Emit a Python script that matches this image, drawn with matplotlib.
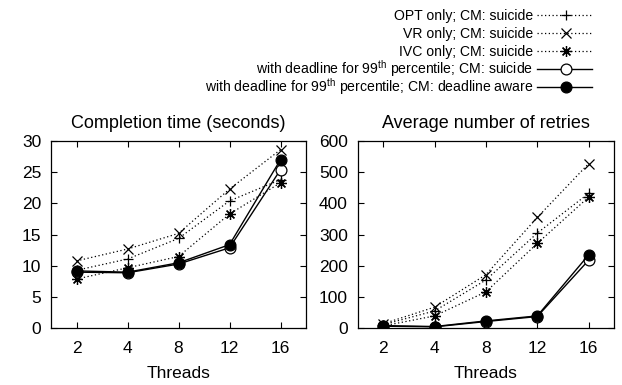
import matplotlib
matplotlib.use("Agg")
import matplotlib.pyplot as plt
from matplotlib.lines import Line2D

plt.rcParams['font.family'] = ['Liberation Sans', 'DejaVu Sans']
plt.rcParams['mathtext.fontset'] = 'custom'
plt.rcParams['mathtext.rm'] = 'Liberation Sans'

# Dati
threads = ['2', '4', '8', '12', '16']

opt_time = [9.3, 11.1, 14.4, 20.4, 23.8]
vr_time = [10.8, 12.7, 15.2, 22.3, 28.6]
ivc_time = [7.9, 9.7, 11.5, 18.3, 23.3]
dl_suicide_time = [9.0, 8.9, 10.3, 12.9, 25.4]
dl_aware_time = [9.2, 9.0, 10.5, 13.4, 27.0]

opt_retries = [12, 56, 155, 305, 432]
vr_retries = [15, 68, 172, 355, 527]
ivc_retries = [8, 40, 117, 272, 420]
dl_suicide_retries = [7, 5, 22, 38, 218]
dl_aware_retries = [9, 6, 24, 40, 235]

labels = [
    "OPT only; CM: suicide",
    "VR only; CM: suicide",
    "IVC only; CM: suicide",
    r"with deadline for 99$^{\mathrm{th}}$ percentile; CM: suicide",
    r"with deadline for 99$^{\mathrm{th}}$ percentile; CM: deadline aware",
]

dotted = (0, (1, 2))
styles = [
    dict(ls=dotted, marker='+', mfc='none', color='black', lw=0.9),
    dict(ls=dotted, marker='x', mfc='none', color='black', lw=0.9),
    dict(ls=dotted, marker=(8, 2, 0), mfc='none', color='black', lw=0.9),
    dict(ls='-', marker='o', mfc='white', color='black', lw=1.0),
    dict(ls='-', marker='o', mfc='black', color='black', lw=1.0),
]

fig = plt.figure(figsize=(6.22, 3.85), dpi=100)
ax1 = fig.add_axes([0.082, 0.147, 0.410, 0.487])
ax2 = fig.add_axes([0.575, 0.147, 0.4125, 0.487])

x = range(len(threads))
for ax, series in [(ax1, [opt_time, vr_time, ivc_time, dl_suicide_time, dl_aware_time]),
                   (ax2, [opt_retries, vr_retries, ivc_retries, dl_suicide_retries, dl_aware_retries])]:
    for vals, st, lab in zip(series, styles, labels):
        ax.plot(x, vals, ms=7.8, mew=0.9, label=lab, **st)
    ax.set_xlim(-0.5, 4.5)
    ax.set_xticks(list(x))
    ax.set_xticklabels(threads)
    ax.set_xlabel("Threads", fontsize=12.5, labelpad=7)
    ax.tick_params(direction='in', top=True, right=True, labelsize=12.5, length=4, width=0.8)
    ax.tick_params(axis='x', pad=9)
    ax.tick_params(axis='y', pad=7)
    for sp in ax.spines.values():
        sp.set_linewidth(0.9)

ax1.set_ylim(0, 30)
ax1.set_yticks(range(0, 31, 5))
ax1.set_title("Completion time (seconds)", fontsize=13, pad=9)

ax2.set_ylim(0, 600)
ax2.set_yticks(range(0, 601, 100))
ax2.set_title("Average number of retries", fontsize=13, pad=9)

# Legenda costruita a mano (testo a destra allineato, campione di linea a destra)
row_y = [15, 33, 51, 69, 87]  # pixel dall'alto
W, H = 622.0, 385.0
for i, (st, lab) in enumerate(zip(styles, labels)):
    yc = 1 - row_y[i] / H
    fig.text(533 / W, 1 - (row_y[i] + 4.7) / H, lab, ha='right', va='baseline', fontsize=10.1)
    fig.add_artist(Line2D([537 / W, 592 / W], [yc, yc], transform=fig.transFigure,
                          color='black', ls=st['ls'], lw=st['lw']))
    fig.add_artist(Line2D([566 / W], [yc], transform=fig.transFigure, ls='none',
                          marker=st['marker'], mfc=st['mfc'], mec='black', ms=7.8, mew=0.9))

fig.savefig("out.png", dpi=100)
